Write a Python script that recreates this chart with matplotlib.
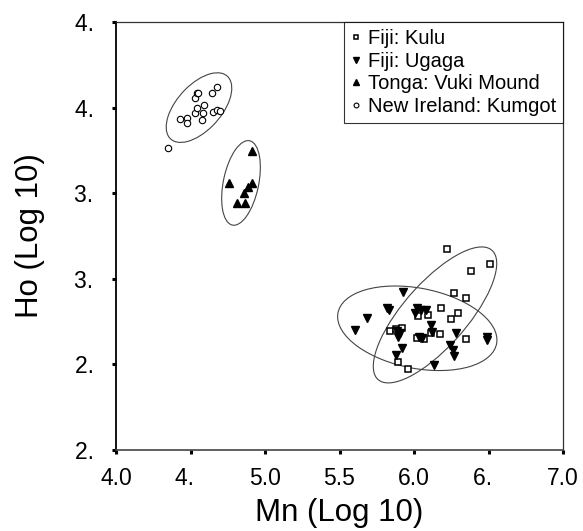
import matplotlib
matplotlib.use("Agg")
import matplotlib.pyplot as plt
from matplotlib.patches import Ellipse

plt.rcParams['font.family'] = ['Liberation Sans', 'DejaVu Sans']

# Fiji: Kulu (open squares)
kulu_mn = [6.224, 6.512, 6.381, 6.266, 6.349, 6.181, 6.295, 6.246, 6.027, 6.096,
           5.839, 5.879, 5.919, 6.174, 6.114, 6.020, 6.067, 6.347, 5.895, 5.962]
kulu_ho = [3.174, 3.085, 3.047, 2.915, 2.886, 2.831, 2.802, 2.765, 2.780, 2.789,
           2.698, 2.704, 2.711, 2.675, 2.686, 2.657, 2.648, 2.648, 2.516, 2.471]

# Fiji: Ugaga (filled down triangles)
ugaga_mn = [5.924, 5.821, 5.834, 5.687, 5.604, 6.022, 6.007, 6.045, 6.081, 6.114,
            6.121, 5.884, 5.906, 5.895, 5.917, 5.879, 6.036, 6.052, 6.282, 6.242,
            6.260, 6.268, 6.488, 6.492, 6.134]
ugaga_ho = [2.921, 2.828, 2.818, 2.769, 2.701, 2.828, 2.802, 2.818, 2.818, 2.730,
            2.691, 2.697, 2.682, 2.662, 2.594, 2.555, 2.658, 2.652, 2.682, 2.613,
            2.584, 2.549, 2.662, 2.643, 2.496]

# Tonga: Vuki Mound (filled up triangles)
vuki_mn = [4.911, 4.760, 4.911, 4.888, 4.861, 4.810, 4.866]
vuki_ho = [3.748, 3.561, 3.558, 3.538, 3.499, 3.441, 3.445]

# New Ireland: Kumgot (open circles)
kumgot_mn = [4.351, 4.430, 4.479, 4.479, 4.530, 4.546, 4.575, 4.582, 4.591, 4.530,
             4.542, 4.552, 4.642, 4.680, 4.649, 4.680, 4.698]
kumgot_ho = [3.762, 3.932, 3.937, 3.908, 3.970, 3.996, 3.928, 3.967, 4.015, 4.054,
             4.084, 4.084, 4.087, 4.119, 3.976, 3.986, 3.980]

# group ellipses: centre x, centre y, width, height, angle
ellipses = [
    (4.557, 4.000, 0.53, 0.28, 41),
    (4.839, 3.560, 0.506, 0.236, 76),
    (6.022, 2.711, 1.08, 0.47, -9),
    (6.141, 2.789, 1.076, 0.40, 43.4),
]

xticks = [4.0, 4.5, 5.0, 5.5, 6.0, 6.5, 7.0]
xtick_labels = ["4.0", "4.\u2007", "5.0", "5.5", "6.0", "6.\u2007", "7.0"]
yticks = [2.0, 2.5, 3.0, 3.5, 4.0, 4.5]
ytick_labels = ["2.\u2007", "2.\u2007", "3.\u2007", "3.\u2007", "4.\u2007", "4.\u2007"]

fig = plt.figure(figsize=(5.83, 5.31), dpi=100)
ax = fig.add_axes([116 / 583, 1 - 450 / 531, 447 / 583, 428 / 531])

for cx, cy, w, h, ang in ellipses:
    ax.add_patch(Ellipse((cx, cy), w, h, angle=ang, fill=False,
                         edgecolor='#444444', linewidth=0.8))

ax.plot(kulu_mn, kulu_ho, 's', ms=4.6, mfc='white', mec='black', mew=1.1,
        label='Fiji: Kulu')
ax.plot(ugaga_mn, ugaga_ho, 'v', ms=6, color='black', label='Fiji: Ugaga')
ax.plot(vuki_mn, vuki_ho, '^', ms=5.5, color='black', label='Tonga: Vuki Mound')
ax.plot(kumgot_mn, kumgot_ho, 'o', ms=4.6, mfc='white', mec='black', mew=0.8,
        label='New Ireland: Kumgot')

ax.set_xlim(4.0, 7.0)
ax.set_ylim(2.0, 4.5)
ax.set_xticks(xticks)
ax.set_xticklabels(xtick_labels)
ax.set_yticks(yticks)
ax.set_yticklabels(ytick_labels)
ax.tick_params(direction='out', length=3, width=2.2, labelsize=16.5, color='black')
ax.tick_params(axis='x', pad=9)
ax.tick_params(axis='y', pad=4)

for side in ['top', 'right']:
    ax.spines[side].set_linewidth(0.9)
    ax.spines[side].set_color('#333333')
ax.spines['left'].set_linewidth(1.3)
ax.spines['bottom'].set_linewidth(1.2)
ax.spines['bottom'].set_color('#444444')

ax.set_xlabel('Mn (Log 10)', fontsize=22.5, va='center')
ax.set_ylabel('Ho (Log 10)', fontsize=22.5, va='center')
ax.xaxis.set_label_coords(0.499, -0.148)
ax.yaxis.set_label_coords(-0.192, 0.502)

leg = ax.legend(loc='upper right', bbox_to_anchor=(1, 1), borderaxespad=0,
                fontsize=14.5, frameon=True, fancybox=False, handlelength=0.5,
                handletextpad=0.35, labelspacing=0.18, borderpad=0.35,
                markerscale=0.75)
leg.get_frame().set_edgecolor('black')
leg.get_frame().set_linewidth(0.8)

fig.savefig('out.png', dpi=100)
